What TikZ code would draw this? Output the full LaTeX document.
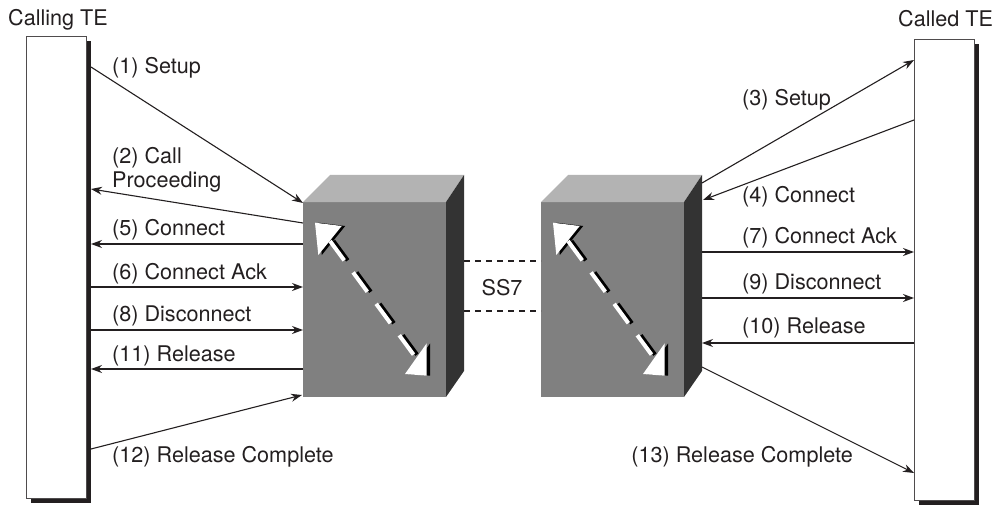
\documentclass[tikz,border=0pt]{standalone}
\usepackage{fontspec}
\setmainfont{TeX Gyre Heros}
\usetikzlibrary{arrows.meta}
\definecolor{ink}{HTML}{231F20}
\definecolor{frontgray}{HTML}{808080}
\definecolor{topgray}{HTML}{B3B3B3}
\definecolor{sidegray}{HTML}{333333}
\begin{document}
\begin{tikzpicture}[x=1pt,y=-1pt,
  font=\fontsize{21.6}{24}\selectfont,
  msg/.style={draw=ink, line width=1.1pt, -{Stealth[length=11pt,width=8pt]}},
  lbl/.style={anchor=base west, inner sep=0pt, text=ink},
  tebox/.style={draw=ink!80, line width=0.8pt, fill=white, minimum width=60pt, inner sep=0pt},
  teshadow/.style={fill=ink},
  ss7line/.style={draw=ink, line width=1.1pt, dash pattern=on 6pt off 5pt}]
\useasboundingbox (0,0) rectangle (992,505);

% ---- terminal equipment ----
\fill[teshadow] (31,41) rectangle (91,503);
\node[tebox, minimum height=462pt] (calling) at (56,267) {};
\fill[teshadow] (919,44) rectangle (979,505);
\node[tebox, minimum height=461pt] (called) at (944,269.5) {};
\node[lbl] (callingtxt) at (8,26) {Calling TE};
\node[lbl] (calledtxt) at (898,27) {Called TE};

% ---- switches ----
\foreach \dx in {0,238}{
\begin{scope}[shift={(\dx,0)}]
  \fill[frontgray] (303,202) rectangle (446,397);
  \fill[topgray] (303,202) -- (330,175) -- (464,175) -- (446,202) -- cycle;
  \fill[sidegray] (446,202) -- (464,175) -- (464,371) -- (446,397) -- cycle;
  % shadowed double arrow
  \begin{scope}[shift={(3.5,0)}]
    \fill[black] (315,222.7) -- (341.7,226) -- (318.3,255) -- cycle;
    \fill[black] (426.7,375.7) -- (405,374) -- (426.7,343.3) -- cycle;
    \draw[black, line width=4pt, dash pattern=on 24pt off 15pt] (330,241) -- (416,358);
  \end{scope}
  \fill[white] (315,222.7) -- (341.7,226) -- (318.3,255) -- cycle;
  \fill[white] (426.7,375.7) -- (405,374) -- (426.7,343.3) -- cycle;
  \draw[white, line width=4pt, dash pattern=on 24pt off 15pt] (330,241) -- (416,358);
\end{scope}}
\node[inner sep=0pt, minimum width=143pt, minimum height=195pt] (swA) at (374.5,299.5) {};
\node[inner sep=0pt, minimum width=142pt, minimum height=195pt] (swB) at (612,299.5) {};

% ---- SS7 link ----
\coordinate (l1a) at (464,261); \coordinate (l1b) at (541,261);
\coordinate (l2a) at (464,311); \coordinate (l2b) at (541,311);
\draw[ss7line] (l1a) -- (l1b);
\draw[ss7line] (l2a) -- (l2b);
\node[anchor=base, inner sep=0pt, text=ink] (ss7) at (502,295) {SS7};

% ---- left side endpoints ----
\coordinate (a1) at (91,67);   \coordinate (b1) at (303,203);
\coordinate (a2) at (303,223); \coordinate (b2) at (91,189);
\coordinate (a5) at (303,244); \coordinate (b5) at (91,244);
\coordinate (a6) at (91,287);  \coordinate (b6) at (303,287);
\coordinate (a8) at (91,330);  \coordinate (b8) at (303,330);
\coordinate (a11) at (303,369); \coordinate (b11) at (91,369);
\coordinate (a12) at (91,449); \coordinate (b12) at (302,395);
\draw[msg] (a1) -- (b1);
\draw[msg] (a2) -- (b2);
\draw[msg] (a5) -- (b5);
\draw[msg] (a6) -- (b6);
\draw[msg] (a8) -- (b8);
\draw[msg] (a11) -- (b11);
\draw[msg] (a12) -- (b12);
\node[lbl] (t1) at (112,74) {(1) Setup};
\node[anchor=north west, inner sep=0pt, align=left, text=ink] (t2) at (112,147) {(2) Call\\Proceeding};
\node[lbl] (t5) at (112,235) {(5) Connect};
\node[lbl] (t6) at (112,279) {(6) Connect Ack};
\node[lbl] (t8) at (112,321) {(8) Disconnect};
\node[lbl] (t11) at (112,361) {(11) Release};
\node[lbl] (t12) at (112,462) {(12) Release Complete};

% ---- right side endpoints ----
\coordinate (a3) at (702,183); \coordinate (b3) at (914,60);
\coordinate (a4) at (914,120); \coordinate (b4) at (703,200);
\coordinate (a7) at (702,252); \coordinate (b7) at (914,252);
\coordinate (a9) at (702,298); \coordinate (b9) at (914,298);
\coordinate (a10) at (914,343); \coordinate (b10) at (702,343);
\coordinate (a13) at (702,367); \coordinate (b13) at (914,473);
\draw[msg] (a3) -- (b3);
\draw[msg] (a4) -- (b4);
\draw[msg] (a7) -- (b7);
\draw[msg] (a9) -- (b9);
\draw[msg] (a10) -- (b10);
\draw[msg] (a13) -- (b13);
\node[lbl] (t3) at (742,106) {(3) Setup};
\node[lbl] (t4) at (742,202) {(4) Connect};
\node[lbl] (t7) at (742,243) {(7) Connect Ack};
\node[lbl] (t9) at (742,289) {(9) Disconnect};
\node[lbl] (t10) at (742,333) {(10) Release};
\node[anchor=base east, inner sep=0pt, text=ink] (t13) at (853,462) {(13) Release Complete};
\end{tikzpicture}
\end{document}
